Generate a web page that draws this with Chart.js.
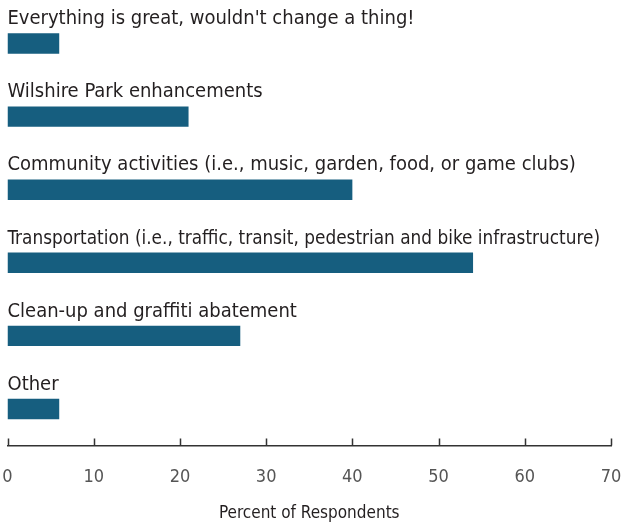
<!DOCTYPE html>
<html>
<head>
<meta charset="utf-8">
<script src="https://cdn.jsdelivr.net/npm/chart.js@4.4.1/dist/chart.umd.min.js"></script>
<style>
  html, body { margin: 0; padding: 0; background: #fff; }
  #wrap { width: 621px; height: 525px; position: relative; }
</style>
</head>
<body>
<div id="wrap"><canvas id="myChart"></canvas></div>
<script>
const categories = [
  "Everything is great, wouldn't change a thing!",
  "Wilshire Park enhancements",
  "Community activities (i.e., music, garden, food, or game clubs)",
  "Transportation (i.e., traffic, transit, pedestrian and bike infrastructure)",
  "Clean-up and graffiti abatement",
  "Other"
];
const percents = [6, 21, 40, 54, 27, 6];
const axisMax = 70;
const axisStep = 10;

const FONT = '"DejaVu Sans Condensed", "Liberation Sans Narrow", sans-serif';
const barColor = "#165e7f";

// category names sit above each bar, left aligned with the axis start
const barLabels = {
  id: "barLabels",
  afterDatasetsDraw(chart) {
    const c = chart.ctx;
    const meta = chart.getDatasetMeta(0);
    const area = chart.chartArea;
    c.save();
    c.font = "20px " + FONT;
    c.fillStyle = "#231f20";
    c.textAlign = "left";
    c.textBaseline = "alphabetic";
    meta.data.forEach((bar, i) => {
      const top = bar.y - bar.height / 2;
      // long labels get squeezed so they stay inside the plot width
      c.fillText(chart.data.labels[i], area.left, top - 9, area.right - area.left - 11);
    });
    c.restore();
  }
};

// short tick marks pointing up from the x axis line
const upTicks = {
  id: "upTicks",
  afterDraw(chart) {
    const x = chart.scales.x;
    const c = chart.ctx;
    const y0 = chart.chartArea.bottom;
    c.save();
    c.strokeStyle = "#333";
    c.lineWidth = 1.5;
    c.beginPath();
    x.ticks.forEach(t => {
      const px = Math.round(x.getPixelForValue(t.value)) + 0.5;
      c.moveTo(px, y0);
      c.lineTo(px, y0 - 7);
    });
    c.stroke();
    c.restore();
  }
};

new Chart(document.getElementById("myChart"), {
  type: "bar",
  data: {
    labels: categories,
    datasets: [{
      data: percents,
      backgroundColor: barColor,
      borderWidth: 0,
      barPercentage: 0.28,
      categoryPercentage: 1
    }]
  },
  options: {
    indexAxis: "y",
    responsive: true,
    maintainAspectRatio: false,
    animation: false,
    layout: { padding: { left: 7.5, right: 10, top: 7, bottom: 2 } },
    plugins: {
      legend: { display: false },
      tooltip: { enabled: false }
    },
    scales: {
      y: { display: false },
      x: {
        min: 0,
        max: axisMax,
        grid: { display: false, drawTicks: false },
        border: { display: true, color: "#333", width: 1.5 },
        ticks: {
          stepSize: axisStep,
          padding: 21,
          color: "#555",
          font: { family: FONT, size: 18 },
          maxRotation: 0
        },
        title: {
          display: true,
          text: "Percent of Respondents",
          color: "#231f20",
          font: { family: FONT, size: 17 },
          padding: { top: -5.5, bottom: -1 }
        },
        // let the end labels hang past the plot edges
        afterFit(scale) {
          scale.paddingLeft = 0;
          scale.paddingRight = 0;
        }
      }
    }
  },
  plugins: [barLabels, upTicks]
});
</script>
</body>
</html>
